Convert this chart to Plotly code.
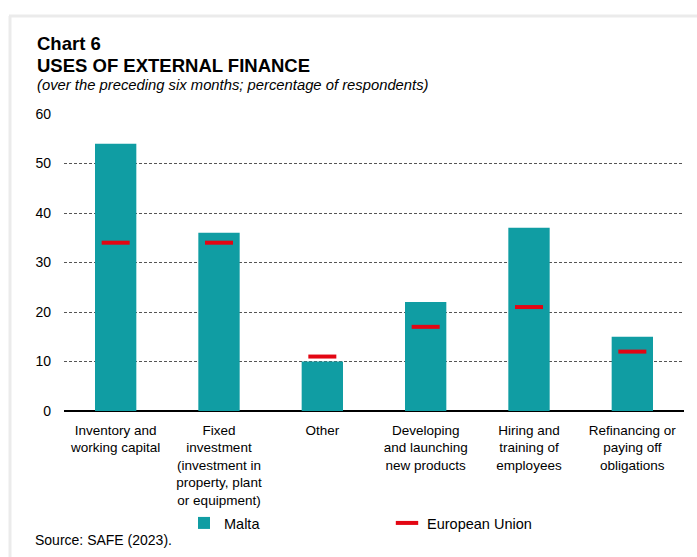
import plotly.graph_objects as go

# data
categories = [
    "Inventory and<br>working capital",
    "Fixed<br>investment<br>(investment in<br>property, plant<br>or equipment)",
    "Other",
    "Developing<br>and launching<br>new products",
    "Hiring and<br>training of<br>employees",
    "Refinancing or<br>paying off<br>obligations",
]
malta = [54, 36, 10, 22, 37, 15]
eu = [34, 34, 11, 17, 21, 12]

W, H = 697, 557
L, R, T, B = 64, 13, 114, 146
FONT = "Liberation Sans, Arial, sans-serif"
TEAL = "#109da3"
RED = "#e30613"


def px_x(px):
    return (px - L) / (W - L - R)


def px_y(py):
    return (H - B - py) / (H - T - B)


fig = go.Figure()

fig.add_trace(go.Bar(
    x=categories, y=malta, name="Malta",
    marker=dict(color=TEAL, line=dict(width=0)),
    width=0.4,
))
fig.add_trace(go.Scatter(
    x=categories, y=eu, name="European Union", mode="markers",
    marker=dict(symbol="line-ew", size=20, line=dict(width=4, color=RED), color=RED),
))

# title block
fig.add_annotation(text="<b>Chart 6</b>", x=px_x(35), y=px_y(44), xref="paper", yref="paper",
                   xanchor="left", yanchor="middle", showarrow=False,
                   font=dict(size=18.5, color="black", family=FONT))
fig.add_annotation(text="<b>USES OF EXTERNAL FINANCE</b>", x=px_x(35), y=px_y(65), xref="paper", yref="paper",
                   xanchor="left", yanchor="middle", showarrow=False,
                   font=dict(size=18.5, color="black", family=FONT))
fig.add_annotation(text="<i>(over the preceding six months; percentage of respondents)</i>",
                   x=px_x(35), y=px_y(85), xref="paper", yref="paper",
                   xanchor="left", yanchor="middle", showarrow=False,
                   font=dict(size=14.8, color="black", family=FONT))
fig.add_annotation(text="Source: SAFE (2023).", x=px_x(33), y=px_y(540), xref="paper", yref="paper",
                   xanchor="left", yanchor="middle", showarrow=False,
                   font=dict(size=14, color="black", family=FONT))

# light grey frame (top and left)
fig.add_shape(type="line", xref="paper", yref="paper", x0=px_x(9), x1=px_x(W), y0=px_y(16), y1=px_y(16),
              line=dict(color="#ebebeb", width=3))
fig.add_shape(type="line", xref="paper", yref="paper", x0=px_x(10), x1=px_x(10), y0=px_y(16), y1=px_y(H),
              line=dict(color="#ebebeb", width=3))

fig.update_layout(
    width=W, height=H,
    margin=dict(l=L, r=R, t=T, b=B),
    paper_bgcolor="white", plot_bgcolor="white",
    font=dict(family=FONT, size=14, color="black"),
    bargap=0.6,
    showlegend=True,
    legend=dict(orientation="h", x=px_x(184), y=px_y(523), xanchor="left", yanchor="middle",
                itemwidth=30, entrywidth=158, font=dict(size=14.5, family=FONT),
                bgcolor="rgba(0,0,0,0)"),
    xaxis=dict(showgrid=False, ticks="", showline=False, tickfont=dict(size=13.5),
               ticklabelstandoff=9),
    yaxis=dict(range=[0, 60], dtick=10, showgrid=True, gridcolor="#555555", gridwidth=1,
               griddash="3px,2px", zeroline=True, zerolinecolor="black", zerolinewidth=2,
               ticks="", tickfont=dict(size=14), ticklabelstandoff=12),
)

# drop the default page margin so the figure sits at the window origin
fig.write_html("out.html", config={"displayModeBar": False},
               post_script="document.body.style.margin='0';")
